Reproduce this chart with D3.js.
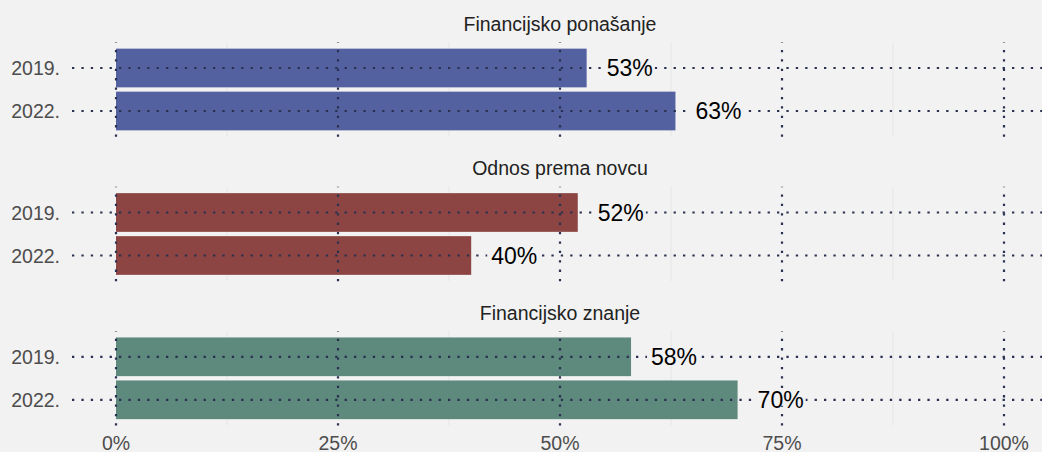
<!DOCTYPE html>
<html>
<head>
<meta charset="utf-8">
<script src="https://cdn.jsdelivr.net/npm/d3@7"></script>
<style>
  html, body { margin: 0; padding: 0; background: #f2f2f2; }
  svg { display: block; }
  text { font-family: "Liberation Sans", Arial, sans-serif; }
</style>
</head>
<body>
<svg id="chart" width="1042" height="452"></svg>
<script>
// Facets, years and shares (percent)
const facets = ["Financijsko ponašanje", "Odnos prema novcu", "Financijsko znanje"];
const years = ["2019.", "2022."];
const valuesBehaviour = [53, 63];
const valuesAttitude = [52, 40];
const valuesKnowledge = [58, 70];
const facetColors = ["#5461a0", "#8c4543", "#5e8a7e"];
const xTicks = [0, 25, 50, 75, 100];
const xMinor = [12.5, 37.5, 62.5, 87.5];

const seriesByFacet = [valuesBehaviour, valuesAttitude, valuesKnowledge];

const W = 1042, H = 452;
const bg = "#f2f2f2";
const gridColor = "#2a3150";
const dotDash = "2.3 7.1";

const svg = d3.select("#chart");
svg.append("rect").attr("width", W).attr("height", H).attr("fill", bg);

const x = d3.scaleLinear().domain([0, 100]).range([116, 1004]);
const panelRight = 1042;
const panelTops = [42.2, 186.7, 331.0];
const panelH = 94.6;

facets.forEach((name, i) => {
  const top = panelTops[i];
  const bottom = top + panelH;
  const y = d3.scaleBand().domain(years).range([top, bottom]).paddingInner(0.1 / 1.1 * 1.1).paddingOuter(0);
  // band layout in the style of a discrete axis: 0.6 unit expansion, bar width 0.9
  const unit = panelH / 2.2;
  const yc = d => top + (0.6 + years.indexOf(d)) * unit;
  const barH = 0.9 * unit;

  const g = svg.append("g").attr("class", "facet");

  // facet title
  g.append("text")
    .attr("x", x(50)).attr("y", top - 11.5)
    .attr("text-anchor", "middle")
    .attr("font-size", 19.5)
    .attr("fill", "#222")
    .text(name);

  // minor vertical grid
  g.selectAll("line.minor").data(xMinor).join("line")
    .attr("class", "minor")
    .attr("x1", d => x(d)).attr("x2", d => x(d))
    .attr("y1", top).attr("y2", bottom)
    .attr("stroke", "#e6e6e6").attr("stroke-width", 1);

  // bars
  const vals = seriesByFacet[i];
  g.selectAll("rect.bar").data(years).join("rect")
    .attr("class", "bar")
    .attr("x", x(0))
    .attr("y", d => yc(d) - barH / 2)
    .attr("width", (d, j) => x(vals[j]) - x(0))
    .attr("height", barH)
    .attr("fill", facetColors[i]);

  // major vertical grid (dotted, over bars)
  g.selectAll("line.vmajor").data(xTicks).join("line")
    .attr("class", "vmajor")
    .attr("x1", d => x(d)).attr("x2", d => x(d))
    .attr("y1", bottom).attr("y2", top)
    .attr("stroke", gridColor).attr("stroke-width", 2.2)
    .attr("stroke-dasharray", dotDash);

  // horizontal grid + tick (dotted)
  g.selectAll("line.hmajor").data(years).join("line")
    .attr("class", "hmajor")
    .attr("x1", 72).attr("x2", panelRight)
    .attr("y1", d => yc(d)).attr("y2", d => yc(d))
    .attr("stroke", gridColor).attr("stroke-width", 2.2)
    .attr("stroke-dasharray", dotDash);

  // year labels
  g.selectAll("text.year").data(years).join("text")
    .attr("class", "year")
    .attr("x", 60).attr("y", d => yc(d))
    .attr("dy", "0.36em")
    .attr("text-anchor", "end")
    .attr("font-size", 19.5)
    .attr("fill", "#4d4d4d")
    .text(d => d);

  // value labels with background
  const lab = g.selectAll("g.lab").data(years).join("g").attr("class", "lab");
  lab.each(function (d, j) {
    const gg = d3.select(this);
    const tx = x(vals[j]) + 20;
    const t = gg.append("text")
      .attr("x", tx).attr("y", yc(d))
      .attr("dy", "0.36em")
      .attr("font-size", 23)
      .attr("fill", "#000")
      .text(vals[j] + "%");
    const bb = t.node().getBBox();
    gg.insert("rect", "text")
      .attr("x", bb.x - 4).attr("y", yc(d) - 6)
      .attr("width", bb.width + 6).attr("height", 12)
      .attr("fill", bg);
  });
});

// x-axis labels
svg.append("g").selectAll("text").data(xTicks).join("text")
  .attr("x", d => x(d)).attr("y", 450)
  .attr("text-anchor", "middle")
  .attr("font-size", 19.5)
  .attr("fill", "#4d4d4d")
  .text(d => d + "%");
</script>
</body>
</html>
